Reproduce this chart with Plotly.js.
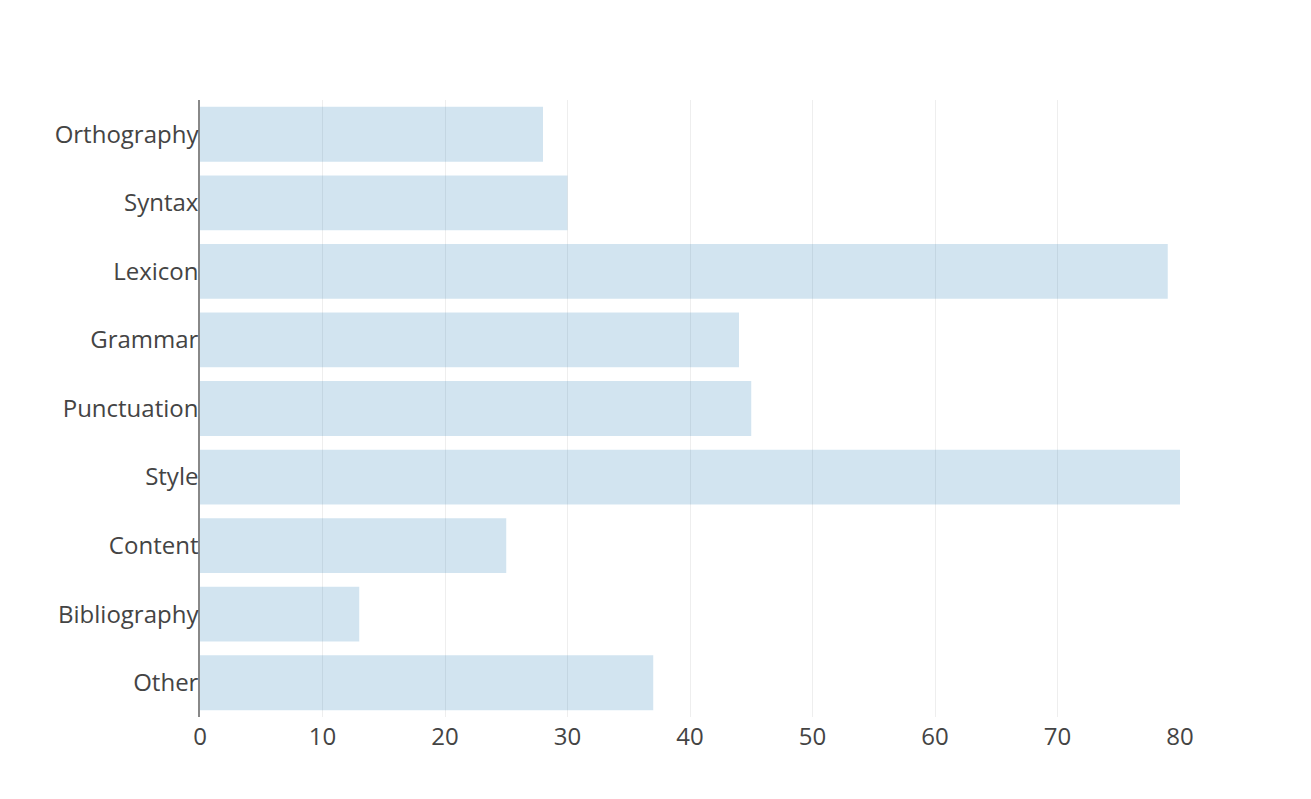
<!DOCTYPE html>
<html>
<head>
<meta charset="utf-8">
<script src="https://cdn.plot.ly/plotly-3.0.1.min.js"></script>
<style>html,body{margin:0;padding:0;background:#fff;}#chart{width:1311px;height:799px;}</style>
</head>
<body>
<div id="chart"></div>
<script>
const categories = ["Orthography","Syntax","Lexicon","Grammar","Punctuation","Style","Content","Bibliography","Other"];
const counts = [28, 30, 79, 44, 45, 80, 25, 13, 37];

const trace = {
  type: 'bar',
  orientation: 'h',
  x: counts,
  y: categories,
  marker: {color: 'rgba(31,119,180,0.2)'},
  hoverinfo: 'x+y'
};

const layout = {
  width: 1311,
  height: 799,
  margin: {l: 200, r: 131, t: 100, b: 82},
  paper_bgcolor: '#fff',
  plot_bgcolor: '#fff',
  font: {family: '"Open Sans", sans-serif', size: 24, color: '#444'},
  showlegend: false,
  bargap: 0.2,
  xaxis: {
    range: [0, 80],
    dtick: 10,
    showgrid: true,
    gridcolor: '#eee',
    zeroline: false,
    showline: false,
    ticklabelstandoff: 3,
    tickfont: {size: 24, color: '#444'}
  },
  yaxis: {
    autorange: 'reversed',
    showline: true,
    linecolor: '#888',
    linewidth: 1.5,
    showgrid: false,
    zeroline: false,
    ticklabelstandoff: -5,
    tickfont: {size: 24, color: '#444'}
  }
};

Plotly.newPlot('chart', [trace], layout, {displayModeBar: false});
</script>
</body>
</html>
